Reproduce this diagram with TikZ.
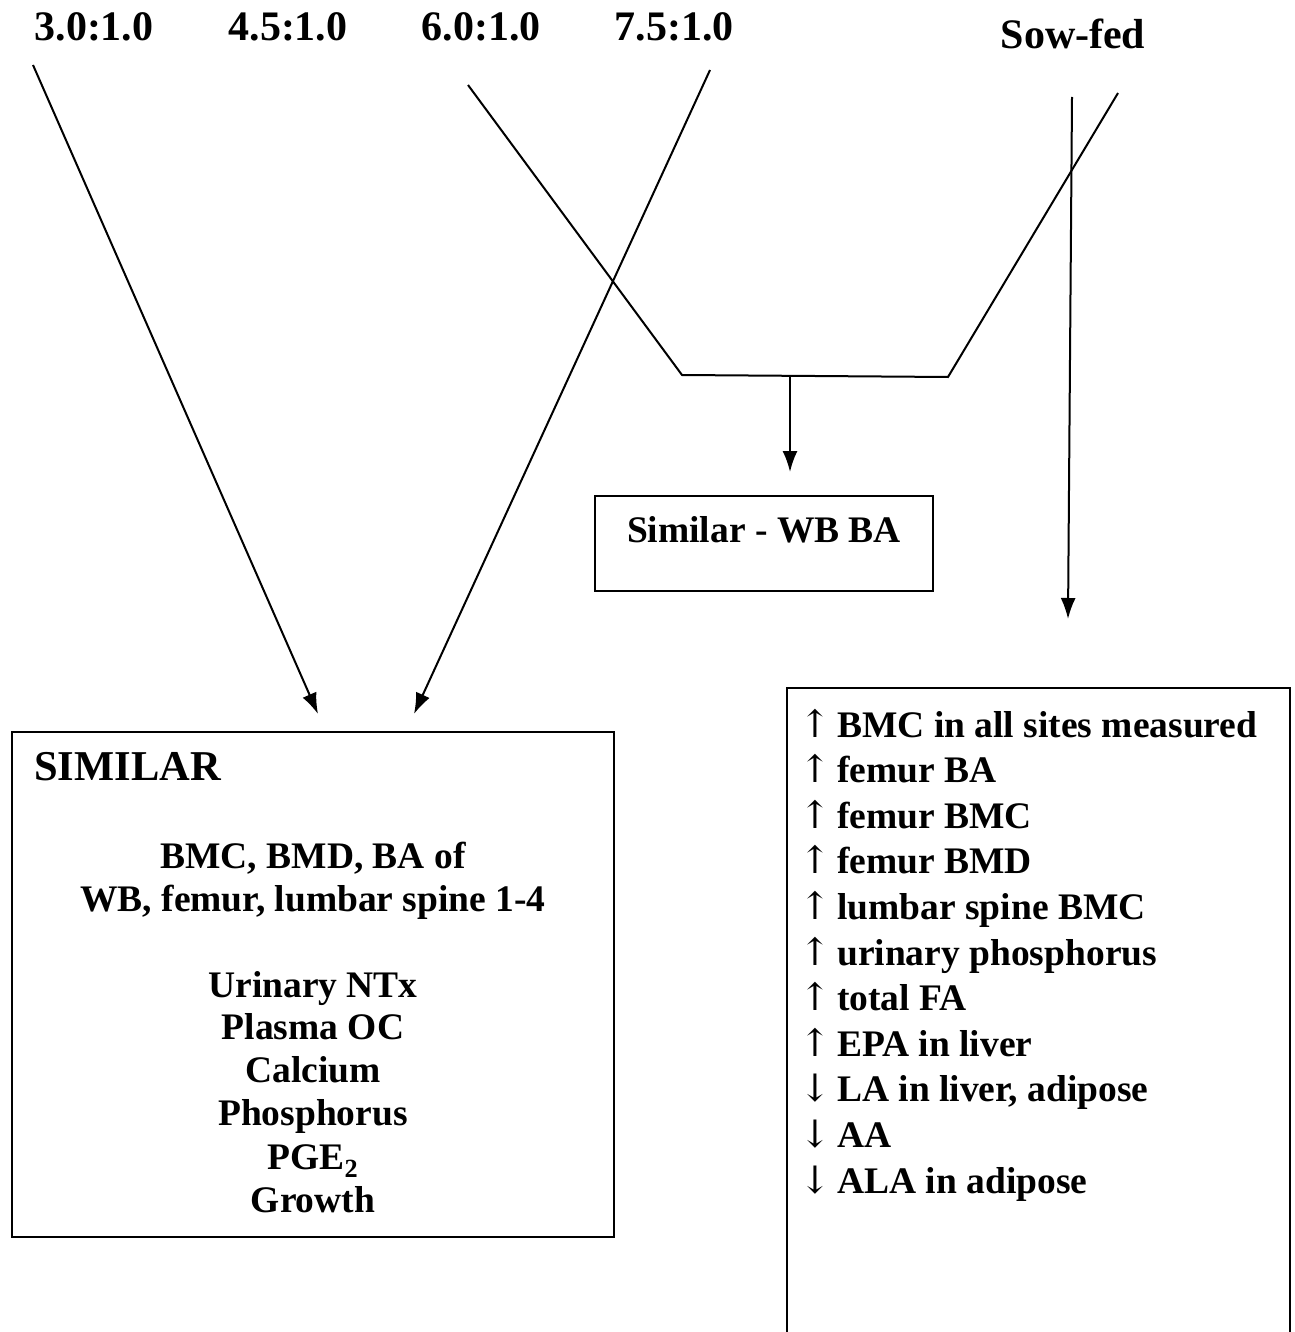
\documentclass[tikz,border=0pt]{standalone}
\usepackage{fontspec}
\setmainfont{Liberation Serif}
\newfontfamily\arrfont{DejaVu Serif}
\usetikzlibrary{arrows.meta}
\begin{document}
\begin{tikzpicture}[x=1pt,y=-1pt,
  lbl/.style={inner sep=0pt,anchor=base,font=\fontsize{42}{50}\selectfont\bfseries},
  txt/.style={inner sep=0pt,anchor=base,font=\fontsize{37.5}{44}\selectfont\bfseries},
  ltxt/.style={inner sep=0pt,anchor=base west,font=\fontsize{37.5}{44}\selectfont\bfseries},
  head/.style={inner sep=0pt,anchor=base west,font=\fontsize{42.5}{50}\selectfont\bfseries},
  sym/.style={inner sep=0pt,anchor=base,font=\arrfont\fontsize{38}{44}\selectfont},
  conn/.style={line width=2pt},
  arr/.style={line width=2pt,-{Latex[length=21pt,width=15pt]}},
  boxline/.style={line width=2pt}]
\useasboundingbox (0,0) rectangle (1294,1332);

% top labels
\node[lbl] (r30) at (94,41) {3.0:1.0};
\node[lbl] (r45) at (288,41) {4.5:1.0};
\node[lbl] (r60) at (481,41) {6.0:1.0};
\node[lbl] (r75) at (674,41) {7.5:1.0};
\node[lbl] (sow) at (1073,49) {Sow-fed};

% connector coordinates
\coordinate (a30) at (33,65);
\coordinate (t30) at (318,714);
\coordinate (a75) at (710,70);
\coordinate (t75) at (414,714);
\coordinate (a60) at (468,85);
\coordinate (c1) at (682,375);
\coordinate (c2) at (948,377);
\coordinate (aS1) at (1118,93);
\coordinate (m) at (790,376);
\coordinate (tm) at (790,472);
\coordinate (aS2) at (1072,97);
\coordinate (tS) at (1068,619);

% boxes
\node[draw,boxline,minimum width=338pt,minimum height=95pt,inner sep=0pt] (wb) at (764,543.5) {};
\node[txt] (wbt) at (764,542) {Similar - WB BA};

\node[draw,boxline,minimum width=602pt,minimum height=505pt,inner sep=0pt] (sim) at (313,984.5) {};
\node[head] (simh) at (34,780) {SIMILAR};
\node[txt] (s1) at (313,868) {BMC, BMD, BA of};
\node[txt] (s2) at (313,911) {WB, femur, lumbar spine 1-4};
\node[txt] (s3) at (313,997) {Urinary NTx};
\node[txt] (s4) at (313,1039) {Plasma OC};
\node[txt] (s5) at (313,1082) {Calcium};
\node[txt] (s6) at (313,1125) {Phosphorus};
\node[txt] (s7) at (313,1169) {PGE\textsubscript{2}};
\node[txt] (s8) at (313,1212) {Growth};

% right open box
\coordinate (rb1) at (787,1332);
\coordinate (rb2) at (787,688);
\coordinate (rb3) at (1290,688);
\coordinate (rb4) at (1290,1332);
\draw[boxline] (rb1) -- (rb2) -- (rb3) -- (rb4);

\foreach \i/\s/\t in {0/↑/BMC in all sites measured,1/↑/femur BA,2/↑/femur BMC,3/↑/femur BMD,4/↑/lumbar spine BMC,5/↑/urinary phosphorus,6/↑/total FA,7/↑/EPA in liver,8/↓/{LA in liver, adipose},9/↓/AA,10/↓/ALA in adipose}{
  \node[sym] (ra\i) at (815,737+45.6*\i) {\s};
  \node[ltxt] (rt\i) at (837,737+45.6*\i) {\t};
}

% connectors
\draw[arr] (a30) -- (t30);
\draw[arr] (a75) -- (t75);
\draw[conn] (a60) -- (c1) -- (c2) -- (aS1);
\draw[arr] (m) -- (tm);
\draw[arr] (aS2) -- (tS);
\end{tikzpicture}
\end{document}
